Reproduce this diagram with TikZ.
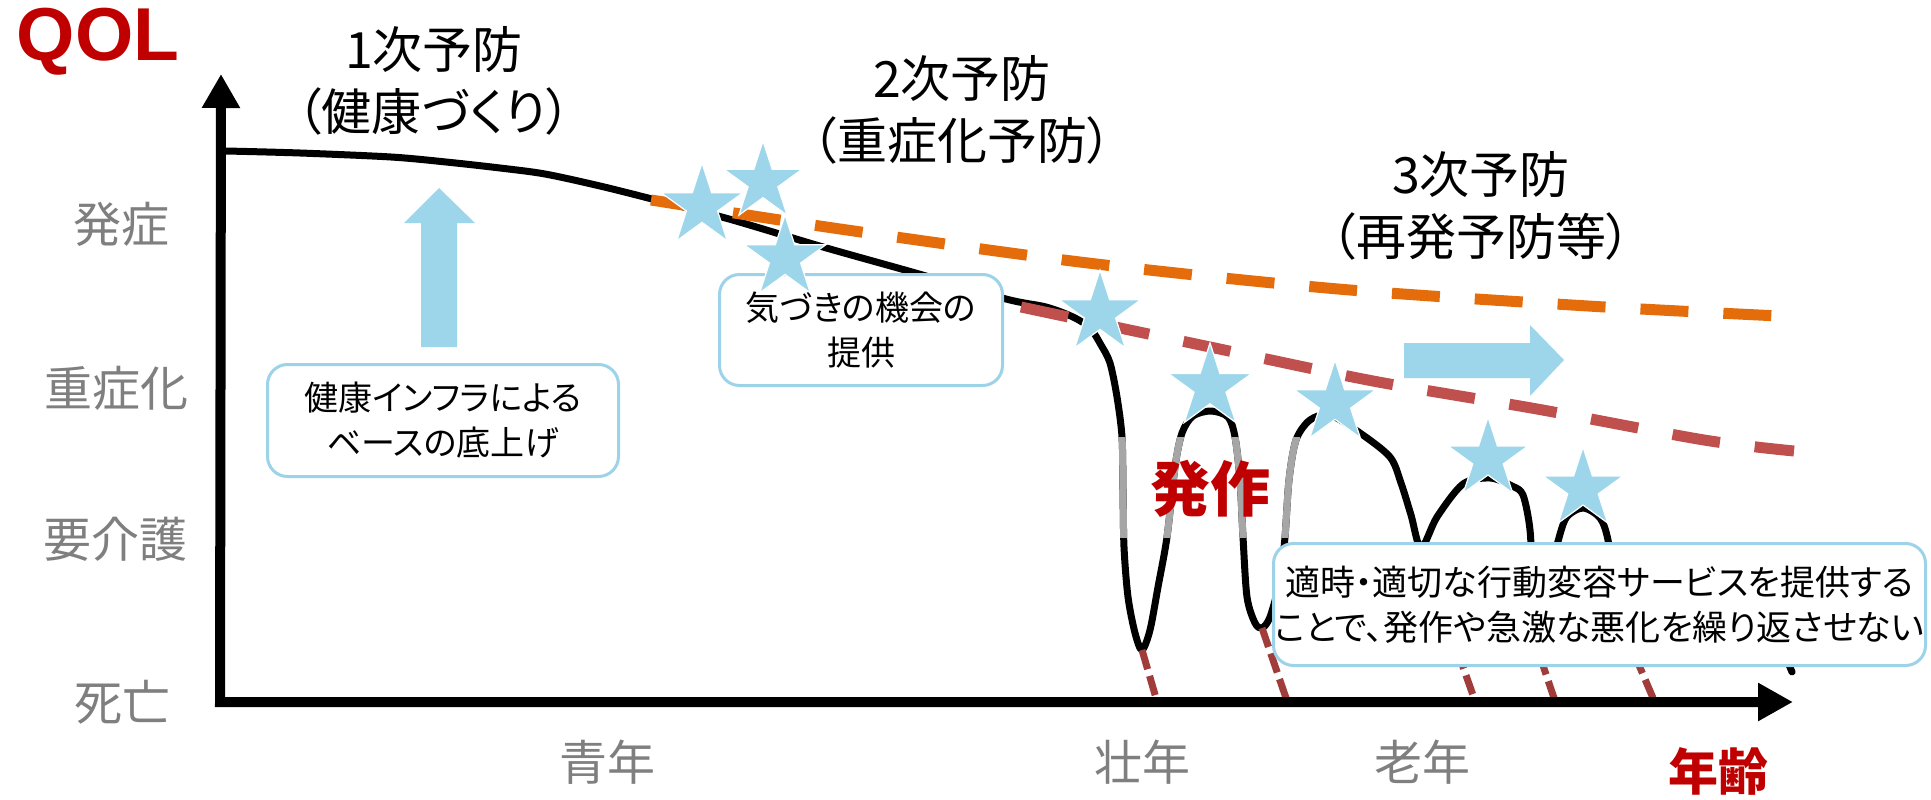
\documentclass[tikz,border=0pt]{standalone}
\usepackage{fontspec}
\setmainfont{Noto Sans CJK JP}[RawFeature=+palt]
\newfontfamily\qolfont{Liberation Sans}
\usetikzlibrary{arrows.meta,shapes.geometric}
\definecolor{qred}{HTML}{C00000}
\definecolor{labgray}{HTML}{7F7F7F}
\definecolor{starblue}{HTML}{9DD6EB}
\definecolor{boxblue}{HTML}{9DD3E8}
\definecolor{dorange}{HTML}{E46C0A}
\definecolor{dred}{HTML}{C0504D}
\definecolor{dropred}{HTML}{A03C3A}
\definecolor{curvegray}{HTML}{A6A6A6}
\newcommand\maincurve{plot[smooth,tension=0.5] coordinates {(226,151) (300,153) (391,157) (446,162) (500,168) (545,174) (600,186) (652,199) (729,219) (823,247) (912,272) (1006,299) (1046,307) (1073,317) (1090,328) (1101,345) (1110,363) (1117,397) (1122,437) (1123,490) (1124,547) (1128,597) (1135,633) (1142,650) (1150,630) (1158,587) (1167,537) (1175,467) (1182,433) (1193,416) (1211,411) (1228,417) (1235,437) (1240,480) (1243,537) (1247,597) (1255,623) (1262,628) (1270,617) (1280,580) (1285,537) (1289,480) (1296,440) (1310,420) (1330,415) (1360,433) (1390,457) (1401,483) (1411,515) (1421,548) (1437,517) (1463,484) (1490,478) (1512,486) (1523,495) (1530,530) (1532,580) (1531,630) (1545,580) (1556,548) (1566,518) (1583,508) (1600,518) (1608,540) (1615,590) (1624,630) (1650,575) (1700,556) (1750,585) (1792,672)}}
\begin{document}
\begin{tikzpicture}[x=1pt,y=-1pt,
  every node/.style={inner sep=0pt,outer sep=0pt},
  lab/.style={text=labgray,font=\fontsize{48}{48}\selectfont},
  ttl/.style={align=center,font=\fontsize{50}{62}\selectfont},
  redlab/.style={text=qred,font=\fontsize{#1}{#1}\selectfont\bfseries},
  infobox/.style={draw=boxblue,line width=3pt,fill=white,rounded corners=20pt,align=center,font=\fontsize{34}{45}\selectfont},
  bstar/.style={star,star points=5,star point ratio=2.618,minimum size=#1,fill=starblue,draw=white,line width=1.2pt},
  bstar/.default=86pt,
  curvesty/.style={line width=7pt,line cap=round,line join=round},
  dashsty/.style={line width=11pt,dash pattern=on 48pt off 35pt},
  dropsty/.style={dropred,line width=7pt,dash pattern=on 20pt off 7pt},
  axissty/.style={line width=10pt,line join=miter}
]
\fill[white] (0,0) rectangle (1931,800);
\useasboundingbox (0,0) rectangle (1931,800);

% main curve
\draw[curvesty] \maincurve;
\begin{scope}
\clip (1100,437) rectangle (1300,537);
\draw[curvesty,curvegray,line cap=butt] \maincurve;
\end{scope}

% drop lines
\coordinate (tr1) at (1142,650); \coordinate (ax1) at (1156,698);
\coordinate (tr2) at (1262,628); \coordinate (ax2) at (1286,698);
\coordinate (tr3) at (1421,548); \coordinate (ax3) at (1474,698);
\coordinate (tr4) at (1531,630); \coordinate (ax4) at (1554,698);
\coordinate (tr5) at (1624,630); \coordinate (ax5) at (1653,698);
\foreach \i in {1,...,5}{\draw[dropsty] (tr\i) -- (ax\i);}

% boxes
\node[infobox,minimum width=351pt,minimum height=112pt] (boxA) at (443,420.5) {健康インフラによる\\ベースの底上げ};
\node[infobox,minimum width=283pt,minimum height=111pt] (boxB) at (861,330) {気づきの機会の\\提供};
\node[infobox,minimum width=652pt,minimum height=122pt,font=\fontsize{35}{45}\selectfont] (boxC) at (1599.5,604.5) {適時・適切な行動変容サービスを提供する\\ことで、発作や急激な悪化を繰り返させない};

% dashed trend lines
\draw[dashsty,dorange] plot[smooth] coordinates {(651,200) (840,229) (1088,263) (1338,289) (1588,306) (1779,316)};
\draw[dashsty,dred] plot[smooth] coordinates {(1021,307) (1210,347) (1373,381) (1537,409) (1704,440) (1794,451)};

% light blue arrows
\fill[starblue] (421,347) -- (421,223) -- (404,223) -- (439,188) -- (475,223) -- (457,223) -- (457,347) -- cycle;
\fill[starblue] (1404,343) -- (1530,343) -- (1530,325) -- (1564,360) -- (1530,396) -- (1530,378) -- (1404,378) -- cycle;

% stars
\node[bstar] (s1) at (702,206) {};
\node[bstar=82pt] (s2) at (763,182) {};
\node[bstar] (s3) at (785,258) {};
\node[bstar] (s4) at (1100,313) {};
\node[bstar=88pt] (s5) at (1210,387) {};
\node[bstar] (s6) at (1335,403) {};
\node[bstar=84pt] (s7) at (1488,459) {};
\node[bstar=84pt] (s8) at (1583,489) {};

% axes
\coordinate (org) at (220,702);
\coordinate (ytip) at (221,74);
\coordinate (xtip) at (1793,702);
\draw[axissty,{Triangle[length=34pt,width=36pt]}-{Triangle[length=35pt,width=36pt]}] (ytip) -- (org) -- (xtip);

% titles
\node[ttl] (t1) at (434,81) {1次予防\\（健康づくり）};
\node[ttl] (t2) at (962,110) {2次予防\\（重症化予防）};
\node[ttl] (t3) at (1481,206) {3次予防\\（再発予防等）};

% axis labels
\node[lab] (l1) at (121,224) {発症};
\node[lab] (l2) at (116,388) {重症化};
\node[lab] (l3) at (115,539) {要介護};
\node[lab] (l4) at (122,702) {死亡};
\node[lab] (a1) at (607,762) {青年};
\node[lab] (a2) at (1142,762) {壮年};
\node[lab] (a3) at (1422,762) {老年};
\node[redlab=50] (age) at (1718,771) {年齢};
\node[redlab=60] (hossa) at (1210,489) {発作};
\node[text=qred,font=\qolfont\fontsize{75}{75}\selectfont\bfseries] (qol) at (98,42) {QOL};
\end{tikzpicture}
\end{document}
